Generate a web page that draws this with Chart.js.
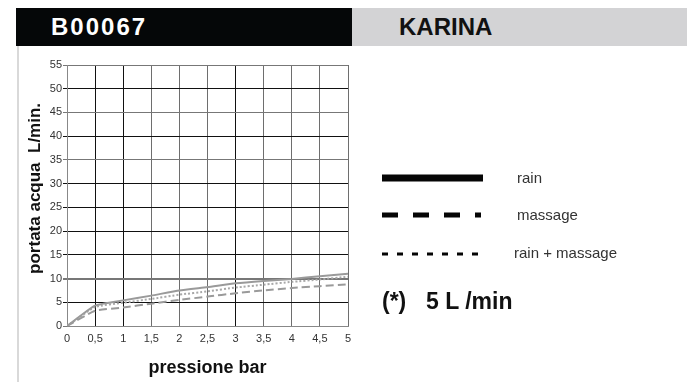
<!DOCTYPE html>
<html>
<head>
<meta charset="utf-8">
<script src="https://cdn.jsdelivr.net/npm/chart.js@4.4.1/dist/chart.umd.min.js"></script>
<style>
  html,body{margin:0;padding:0;background:#fff;}
  body{width:687px;height:382px;position:relative;overflow:hidden;font-family:"Liberation Sans",Arial,sans-serif;}
  #c{position:absolute;left:0;top:0;}
  .hdr{position:absolute;top:8px;height:38px;}
  .hdr span{position:absolute;top:0;line-height:38px;font-weight:bold;font-size:24px;}
  .lg{position:absolute;font-size:15px;color:#333;line-height:18px;}
  .note{position:absolute;font-size:23px;font-weight:bold;color:#111;line-height:26px;}
</style>
</head>
<body>
<div style="position:absolute;left:17px;top:46px;width:2px;height:336px;background:#d9d9d9;"></div>
<div class="hdr" style="left:16px;width:336px;background:#050708;"><span style="left:35px;color:#fff;letter-spacing:2px;">B00067</span></div>
<div class="hdr" style="left:352px;width:335px;background:#d3d3d5;"><span style="left:47px;color:#111;">KARINA</span></div>
<canvas id="c" width="687" height="382"></canvas>
<svg style="position:absolute;left:0;top:0;" width="687" height="382">
  <line x1="382" y1="178" x2="483" y2="178" stroke="#050505" stroke-width="7"/>
  <line x1="382" y1="215" x2="481" y2="215" stroke="#050505" stroke-width="5" stroke-dasharray="16 15"/>
  <line x1="382" y1="254" x2="480" y2="254" stroke="#050505" stroke-width="3" stroke-dasharray="6 9"/>
</svg>
<div class="lg" style="left:517px;top:169px;">rain</div>
<div class="lg" style="left:517px;top:206px;">massage</div>
<div class="lg" style="left:514px;top:244px;">rain + massage</div>
<div class="note" style="left:382px;top:288px;">(*)</div>
<div class="note" style="left:426px;top:288px;">5 L /min</div>
<script>
const pressure = [0, 0.5, 1, 1.5, 2, 2.5, 3, 3.5, 4, 4.5, 5];
const xTickLabels = ['0','0,5','1','1,5','2','2,5','3','3,5','4','4,5','5'];
const rain = [0, 4.3, 5.4, 6.4, 7.5, 8.2, 9.0, 9.5, 9.9, 10.5, 11.0];
const massage = [0, 3.2, 3.9, 4.7, 5.5, 6.2, 6.9, 7.5, 8.0, 8.4, 8.8];
const rainMassage = [0, 4.0, 4.9, 5.7, 6.6, 7.3, 8.1, 8.7, 9.3, 9.8, 10.4];
const seriesNames = ['rain', 'massage', 'rain + massage'];

const pts = arr => pressure.map((p, i) => ({x: p, y: arr[i]}));
const darkX = [0.5, 1, 3];
const darkY = [5, 15, 20, 25, 30, 40, 50];

new Chart(document.getElementById('c'), {
  type: 'line',
  data: {
    datasets: [
      {label: seriesNames[0], data: pts(rain), borderColor: '#9a9a9a', borderWidth: 2, pointRadius: 0, tension: 0.15},
      {label: seriesNames[1], data: pts(massage), borderColor: '#9a9a9a', borderWidth: 2, borderDash: [8, 4], pointRadius: 0, tension: 0.15},
      {label: seriesNames[2], data: pts(rainMassage), borderColor: '#a8a8a8', borderWidth: 2, borderDash: [2, 2], pointRadius: 0, tension: 0.15}
    ]
  },
  options: {
    responsive: false,
    animation: false,
    layout: {padding: {top: 65, right: 339, left: 0, bottom: 0}},
    plugins: {legend: {display: false}, tooltip: {enabled: false}},
    scales: {
      x: {
        type: 'linear', min: 0, max: 5,
        afterFit: s => { s.height = 56; },
        afterBuildTicks: s => { s.ticks = pressure.map(v => ({value: v})); },
        ticks: {
          color: '#333', padding: 6, maxRotation: 0, autoSkip: false,
          font: {family: '"Liberation Sans", Arial, sans-serif', size: 11},
          callback: (v, i) => xTickLabels[i]
        },
        grid: {
          drawTicks: false,
          lineWidth: 1,
          color: c => (darkX.includes(c.tick && c.tick.value) ? '#111' : '#6e6e6e')
        },
        border: {color: '#888', width: 1},
        title: {
          display: true, text: 'pressione bar', color: '#111',
          font: {family: '"Liberation Sans", Arial, sans-serif', size: 18, weight: 'bold'},
          padding: {top: 0, bottom: 3}
        }
      },
      y: {
        min: 0, max: 55,
        afterFit: s => { s.width = 67; },
        ticks: {
          stepSize: 5, color: '#333', padding: 1,
          font: {family: '"Liberation Sans", Arial, sans-serif', size: 11}
        },
        grid: {
          drawTicks: true, tickLength: 4,
          lineWidth: c => (c.tick && c.tick.value === 10 ? 2 : 1),
          color: c => (darkY.includes(c.tick && c.tick.value) ? '#111' : '#777')
        },
        border: {color: '#888', width: 1},
        title: {
          display: true, text: '   portata acqua  L/min.', color: '#111',
          font: {family: '"Liberation Sans", Arial, sans-serif', size: 17, weight: 'bold'},
          padding: {top: 25, bottom: 0}
        }
      }
    }
  }
});
</script>
</body>
</html>
